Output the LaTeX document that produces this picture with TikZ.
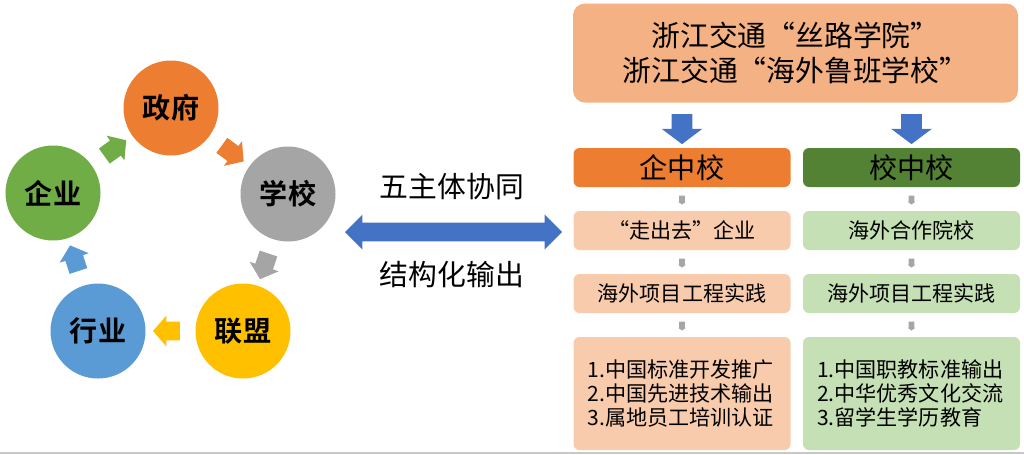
\documentclass[tikz,border=0pt]{standalone}
\usepackage{fontspec}
\setmainfont{Noto Sans CJK SC}[BoldFont={Noto Sans CJK SC Bold}]
\usetikzlibrary{shapes.arrows}
\definecolor{govorange}{HTML}{ED7D31}
\definecolor{schoolgray}{HTML}{A5A5A5}
\definecolor{allianceyellow}{HTML}{FFC000}
\definecolor{tradeblue}{HTML}{5B9BD5}
\definecolor{firmgreen}{HTML}{70AD47}
\definecolor{linkblue}{HTML}{4472C4}
\definecolor{toppeach}{HTML}{F4B183}
\definecolor{lightpeach}{HTML}{F8CBAD}
\definecolor{darkgreen}{HTML}{548235}
\definecolor{lightgreen}{HTML}{C5E0B4}
\definecolor{stepgray}{HTML}{A6A6A6}
\definecolor{rulegray}{HTML}{C8C8C8}

\begin{document}
\begin{tikzpicture}[x=0.25mm,y=-0.25mm,
  member/.style={circle,fill=#1,minimum size=23.75mm,inner sep=0pt,
    font=\bfseries\fontsize{20}{24}\selectfont},
  turnarrow/.style={single arrow,fill=#1,inner xsep=0pt,inner ysep=2.25mm,
    single arrow head extend=1.5mm,single arrow tip angle=98,
    minimum height=6.75mm,sloped,allow upside down},
  downarrow/.style={single arrow,fill=linkblue,inner xsep=0pt,inner ysep=2.5mm,
    single arrow head extend=2.5mm,single arrow tip angle=106,
    minimum height=7.5mm,sloped},
  tinyarrow/.style={single arrow,fill=stepgray,inner xsep=0pt,inner ysep=0.65mm,
    single arrow head extend=0.25mm,single arrow tip angle=110,
    minimum height=2.25mm,sloped},
  midtext/.style={inner sep=0pt,font=\fontsize{20.5}{24}\selectfont},
  headbox/.style={fill=#1,rounded corners=1.5mm,minimum width=54.25mm,
    minimum height=9.75mm,inner sep=0pt,font=\fontsize{20}{24}\selectfont},
  cellbox/.style={fill=#1,rounded corners=1.5mm,minimum width=54.25mm,
    minimum height=9.75mm,inner sep=0pt,font=\fontsize{15}{17}\selectfont},
  listbox/.style={fill=#1,rounded corners=1.5mm,text width=47.25mm,
    minimum height=28.25mm,inner xsep=3.5mm,inner ysep=0pt,align=left,
    font=\fontsize{15}{17}\selectfont}]
  \useasboundingbox (0,0) rectangle (1024,454);

  \node[member=govorange] (gov) at (171,108) {政府};
  \node[member=schoolgray] (school) at (288,194) {学校};
  \node[member=allianceyellow] (alliance) at (243,331) {联盟};
  \node[member=tradeblue] (trade) at (98,331) {行业};
  \node[member=firmgreen] (firm) at (53,193) {企业};
  \path (gov) -- node[turnarrow=govorange] {} (school);
  \path (school) -- node[turnarrow=schoolgray] {} (alliance);
  \path (alliance) -- node[turnarrow=allianceyellow] {} (trade);
  \path (trade) -- node[turnarrow=tradeblue] {} (firm);
  \path (firm) -- node[turnarrow=firmgreen] {} (gov);

  \node[midtext] (cooperate) at (452,187) {五主体协同};
  \node[double arrow,fill=linkblue,inner xsep=0pt,inner ysep=2.25mm,
    double arrow head extend=2mm,minimum height=54.25mm] (link) at (453.5,232) {};
  \node[midtext] (output) at (452,275) {结构化输出};

  \node[fill=toppeach,rounded corners=3mm,minimum width=111.25mm,minimum height=24.75mm,
    align=center,font=\fontsize{20.5}{24.5}\selectfont] (silk) at (795.5,53)
    {浙江交通“丝路学院”\\浙江交通“海外鲁班学校”};

  \node[headbox=govorange] (qzx) at (682,167.5) {企中校};
  \node[cellbox=lightpeach] (qzx2) at (682,230.5) {“走出去”企业};
  \node[cellbox=lightpeach] (qzx3) at (682,293.5) {海外项目工程实践};
  \node[listbox=lightpeach] (qzx4) at (682,393.5)
    {1.中国标准开发推广\\2.中国先进技术输出\\3.属地员工培训认证};

  \node[headbox=darkgreen] (xzx) at (911.5,167.5) {校中校};
  \node[cellbox=lightgreen] (xzx2) at (911.5,230.5) {海外合作院校};
  \node[cellbox=lightgreen] (xzx3) at (911.5,293.5) {海外项目工程实践};
  \node[listbox=lightgreen] (xzx4) at (911.5,393.5)
    {1.中国职教标准输出\\2.中华优秀文化交流\\3.留学生学历教育};

  \path (silk.south -| qzx.north) -- node[downarrow] {} (qzx.north);
  \path (silk.south -| xzx.north) -- node[downarrow] {} (xzx.north);
  \path (qzx.south) -- node[tinyarrow] {} (qzx2.north);
  \path (qzx2.south) -- node[tinyarrow] {} (qzx3.north);
  \path (qzx3.south) -- node[tinyarrow] {} (qzx4.north);
  \path (xzx.south) -- node[tinyarrow] {} (xzx2.north);
  \path (xzx2.south) -- node[tinyarrow] {} (xzx3.north);
  \path (xzx3.south) -- node[tinyarrow] {} (xzx4.north);

  \draw[rulegray,line width=0.5mm] (0,453) -- (1024,453);
\end{tikzpicture}
\end{document}
